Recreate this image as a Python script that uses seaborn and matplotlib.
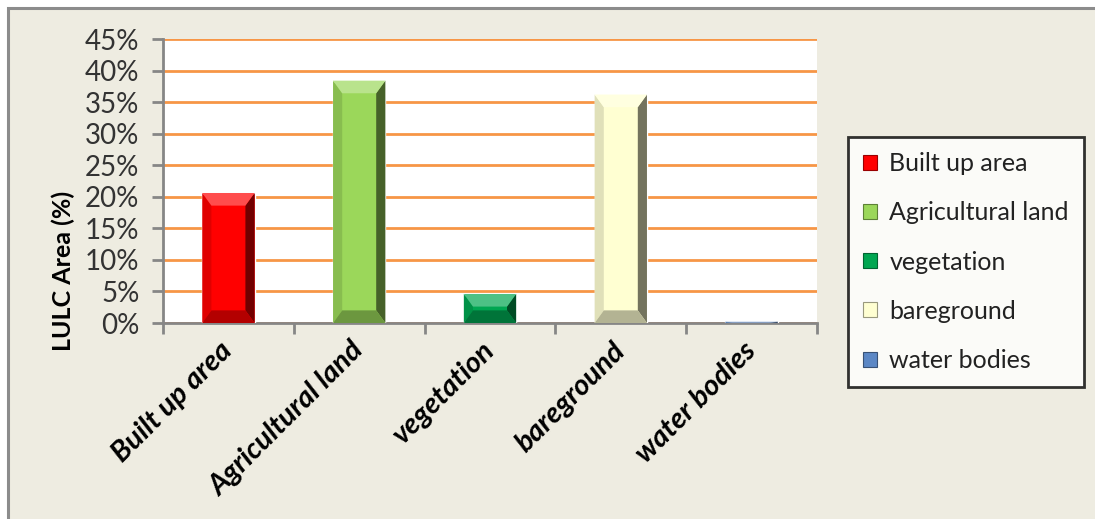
import numpy as np
import pandas as pd
import seaborn as sns
import matplotlib.pyplot as plt
from matplotlib.patches import Patch, Rectangle, Polygon
from matplotlib.ticker import PercentFormatter, FixedLocator
from matplotlib.colors import to_rgb

sns.set_theme(style="white")
plt.rcParams['font.family'] = ['Lato', 'DejaVu Sans']

# data
classes = ["Built up area", "Agricultural land", "vegetation", "bareground", "water bodies"]
area_share = [0.206, 0.384, 0.046, 0.362, 0.002]
bar_colors = ["#FF0000", "#9BD75A", "#00A651", "#FFFFD2", "#5B87C5"]

df = pd.DataFrame({"LULC": classes, "Area": area_share})

fig = plt.figure(figsize=(10.95, 5.19), dpi=100, facecolor="white")
# beige chart area with gray border (top / left visible)
fig.patches.append(Rectangle((8 / 1095, -0.1), 1.1, 1.1 - 8 / 519, transform=fig.transFigure,
                             facecolor="#EEECE1", edgecolor="#8C8C8C", linewidth=2.2, zorder=-5))

ax = fig.add_axes([163 / 1095, 1 - 323 / 519, 654 / 1095, 284 / 519])
ax.set_facecolor("white")

sns.barplot(data=df, x="LULC", y="Area", hue="LULC", palette=bar_colors,
            width=0.4, legend=False, ax=ax, saturation=1, zorder=3)


def shade(c, f):
    r = np.array(to_rgb(c))
    if f > 0:
        return tuple(r + (1 - r) * f)
    return tuple(r * (1 + f))


# simple bevel look like the original office chart
bx, by = 0.07, 0.02
for bar, col in zip(ax.patches[:len(classes)], bar_colors):
    x0, y0 = bar.get_x(), bar.get_y()
    x1, y1 = x0 + bar.get_width(), y0 + bar.get_height()
    b = min(by, bar.get_height() / 2)
    parts = [
        ([(x0, y0), (x0 + bx, y0 + b), (x0 + bx, y1 - b), (x0, y1)], shade(col, -0.12)),
        ([(x1, y0), (x1 - bx, y0 + b), (x1 - bx, y1 - b), (x1, y1)], shade(col, -0.55)),
        ([(x0, y0), (x1, y0), (x1 - bx, y0 + b), (x0 + bx, y0 + b)], shade(col, -0.3)),
        ([(x0, y1), (x1, y1), (x1 - bx, y1 - b), (x0 + bx, y1 - b)], shade(col, 0.3)),
    ]
    for pts, pc in parts:
        ax.add_patch(Polygon(pts, closed=True, facecolor=pc, edgecolor="none", zorder=4))

ax.set_ylim(0, 0.45)
ax.set_xlim(-0.5, len(classes) - 0.5)
ax.yaxis.set_major_locator(FixedLocator(np.arange(0, 0.451, 0.05)))
ax.yaxis.set_major_formatter(PercentFormatter(1.0, decimals=0))
ax.grid(axis="y", color="#F79646", linewidth=2, zorder=0)
ax.set_axisbelow(True)

for s in ["top", "right"]:
    ax.spines[s].set_visible(False)
for s in ["left", "bottom"]:
    ax.spines[s].set_color("#868686")
    ax.spines[s].set_linewidth(2)

ax.tick_params(axis="y", which="major", left=True, length=8, width=2, color="#868686",
               labelsize=20, labelcolor="#333333", pad=9)
ax.set_xticks(np.arange(len(classes)))
ax.set_xticks(np.arange(-0.5, len(classes), 1.0), minor=True)
ax.tick_params(axis="x", which="major", bottom=False, length=0, pad=17)
ax.tick_params(axis="x", which="minor", bottom=True, length=8, width=2, color="#868686")
ax.set_xticklabels(classes, rotation=45, ha="right", va="center", rotation_mode="anchor",
                   fontsize=21, fontweight="bold", fontstyle="italic", color="black")
ax.set_xlabel("")
ax.set_ylabel("")
fig.text(63 / 1095, 1 - 271 / 519, "LULC Area (%)", rotation=90, ha="center", va="center",
         fontsize=18, fontweight="bold", color="black")

handles = [Patch(facecolor=c, edgecolor=shade(c, -0.4), linewidth=0.8) for c in bar_colors]
leg = fig.legend(handles, classes, loc="upper left", bbox_to_anchor=(848 / 1095, 1 - 137 / 519),
                 frameon=True, fancybox=False, edgecolor="black", facecolor="white",
                 fontsize=18, labelspacing=1.05, handlelength=0.55, handleheight=0.55,
                 handletextpad=0.5, borderpad=0.6, borderaxespad=0)
leg.get_frame().set_linewidth(2)
for t in leg.get_texts():
    t.set_color("#222222")

fig.savefig("out.png", dpi=100, facecolor=fig.get_facecolor())
